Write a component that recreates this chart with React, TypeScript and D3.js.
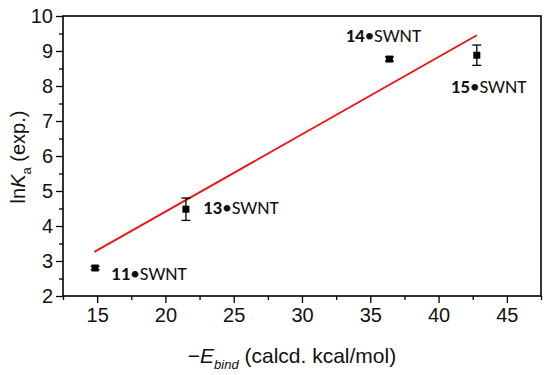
import React, { useEffect, useRef } from "react";
import * as d3 from "d3";

// measured points: -Ebind (kcal/mol), lnKa, error
const labels = ["11", "13", "14", "15"];
const energy = [14.85, 21.5, 36.4, 42.8];
const lnKa = [2.8, 4.48, 8.77, 8.88];
const errors = [0.05, 0.32, 0.06, 0.29];

// fitted line end points
const fitX = [14.8, 42.8];
const fitY = [3.26, 9.45];

const xTicks = [15, 20, 25, 30, 35, 40, 45];
const yTicks = [2, 3, 4, 5, 6, 7, 8, 9, 10];

const App = () => {
  const ref = useRef<SVGSVGElement | null>(null);

  useEffect(() => {
    if (!ref.current) return;
    const svg = d3.select(ref.current);
    svg.selectAll("*").remove();

    const margin = { top: 16, right: 9, bottom: 79, left: 63 };
    const width = 550 - margin.left - margin.right;
    const height = 375 - margin.top - margin.bottom;

    const g = svg
      .append("g")
      .attr("transform", `translate(${margin.left},${margin.top})`);

    const x = d3.scaleLinear().domain([12.5, 47.5]).range([0, width]);
    const y = d3.scaleLinear().domain([2, 10]).range([height, 0]);

    const tickFont = "Liberation Sans, Arial, sans-serif";

    // minor ticks
    const xMinor = d3.range(12.5, 47.6, 2.5).filter((v) => !xTicks.includes(v));
    const yMinor = d3.range(2.5, 10, 1);

    g.append("g")
      .attr("transform", `translate(0,${height})`)
      .call(d3.axisBottom(x).tickValues(xMinor).tickSize(4).tickFormat(() => ""))
      .call((a) => a.select(".domain").remove());
    g.append("g")
      .call(d3.axisLeft(y).tickValues(yMinor).tickSize(4).tickFormat(() => ""))
      .call((a) => a.select(".domain").remove());

    const xAxis = g
      .append("g")
      .attr("transform", `translate(0,${height})`)
      .call(d3.axisBottom(x).tickValues(xTicks).tickSize(7).tickPadding(5));
    xAxis.select(".domain").remove();
    xAxis.selectAll("text").attr("font-size", 20).attr("font-family", tickFont).attr("fill", "#111");

    const yAxis = g
      .append("g")
      .call(d3.axisLeft(y).tickValues(yTicks).tickSize(7).tickPadding(3));
    yAxis.select(".domain").remove();
    yAxis.selectAll("text").attr("font-size", 20).attr("font-family", tickFont).attr("fill", "#111");

    g.selectAll(".tick line").attr("stroke", "#000").attr("stroke-width", 1.3);

    // frame
    g.append("rect")
      .attr("width", width)
      .attr("height", height)
      .attr("fill", "none")
      .attr("stroke", "#000")
      .attr("stroke-width", 1.6);

    // fit line
    g.append("line")
      .attr("x1", x(fitX[0]))
      .attr("y1", y(fitY[0]))
      .attr("x2", x(fitX[1]))
      .attr("y2", y(fitY[1]))
      .attr("stroke", "#f01010")
      .attr("stroke-width", 1.8);

    const pts = labels.map((l, i) => ({ l, x: energy[i], y: lnKa[i], e: errors[i] }));

    // error bars
    const eb = g.selectAll(".err").data(pts).enter().append("g");
    eb.append("line")
      .attr("x1", (d) => x(d.x))
      .attr("x2", (d) => x(d.x))
      .attr("y1", (d) => y(d.y - d.e))
      .attr("y2", (d) => y(d.y + d.e))
      .attr("stroke", "#000")
      .attr("stroke-width", 1.3);
    [1, -1].forEach((s) => {
      eb.append("line")
        .attr("x1", (d) => x(d.x) - 4.5)
        .attr("x2", (d) => x(d.x) + 4.5)
        .attr("y1", (d) => y(d.y + s * d.e))
        .attr("y2", (d) => y(d.y + s * d.e))
        .attr("stroke", "#000")
        .attr("stroke-width", 1.3);
    });

    // markers
    g.selectAll(".pt")
      .data(pts)
      .enter()
      .append("rect")
      .attr("x", (d) => x(d.x) - 3.5)
      .attr("y", (d) => y(d.y) - 3.5)
      .attr("width", 7)
      .attr("height", 7)
      .attr("fill", "#000");

    // point labels (offset from marker, in px)
    const offsets = [
      [16, 12],
      [17, 5],
      [-44, -17],
      [-26, 38],
    ];
    const lab = g
      .selectAll(".lab")
      .data(pts)
      .enter()
      .append("text")
      .attr("x", (d, i) => x(d.x) + offsets[i][0])
      .attr("y", (d, i) => y(d.y) + offsets[i][1])
      .attr("font-family", "Carlito, Lato, 'Open Sans', sans-serif")
      .attr("font-size", 19)
      .attr("fill", "#111");
    lab.append("tspan").attr("font-weight", "bold").text((d) => d.l);
    lab.append("tspan").text("\u2022SWNT");

    // axis titles
    const xt = svg
      .append("text")
      .attr("x", 292)
      .attr("y", 363)
      .attr("text-anchor", "middle")
      .attr("font-family", tickFont)
      .attr("font-size", 21)
      .attr("fill", "#111");
    xt.append("tspan").text("\u2212");
    xt.append("tspan").attr("font-style", "italic").text("E");
    xt.append("tspan").attr("font-style", "italic").attr("font-size", 13).attr("dy", 6).text("bind");
    xt.append("tspan").attr("dy", -6).text(" (calcd. kcal/mol)");

    const yt = svg
      .append("text")
      .attr("transform", "translate(25,157) rotate(-90)")
      .attr("text-anchor", "middle")
      .attr("font-family", tickFont)
      .attr("font-size", 20)
      .attr("fill", "#111");
    yt.append("tspan").text("ln");
    yt.append("tspan").attr("font-style", "italic").text("K");
    yt.append("tspan").attr("font-size", 13).attr("dy", 6).text("a");
    yt.append("tspan").attr("dy", -6).text(" (exp.)");
  }, []);

  return (
    <svg
      ref={ref}
      width={550}
      height={375}
      style={{ position: "absolute", left: 0, top: 0, background: "#fff" }}
    />
  );
};

export default App;
